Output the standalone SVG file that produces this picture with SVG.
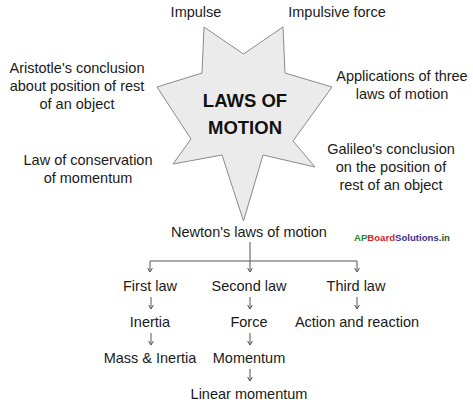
<svg xmlns="http://www.w3.org/2000/svg" width="473" height="407" viewBox="0 0 473 407">
<defs>
<style>
text{font-family:"Liberation Sans",Arial,sans-serif;font-size:14.5px;fill:#1a1a1a;text-anchor:middle}
.title{font-weight:bold;font-size:18.5px;fill:#111}
.con line{stroke:#555;stroke-width:1;fill:none}
.wm{font-weight:bold;font-size:9.6px;text-anchor:start}
</style>
<marker id="ah" viewBox="0 0 5 6" refX="4.5" refY="3" markerWidth="5" markerHeight="6" markerUnits="userSpaceOnUse" orient="auto">
<path d="M0,0.3 L4.5,3 L0,5.7" fill="none" stroke="#555" stroke-width="1"/>
</marker>
</defs>
<rect width="473" height="407" fill="#ffffff"/>

<g id="star">
<polygon points="204,27 243.5,54 283,27 285,73 332,87 293,141 315,167 263,155 243.5,221 222,155 173,164 191,139 157,87 202,73" fill="#ebebeb" stroke="#8a8a8a" stroke-width="1"/>
<text class="title" x="245" y="107">LAWS OF</text>
<text class="title" x="245" y="134">MOTION</text>
</g>

<g id="impulse"><text x="196" y="17">Impulse</text></g>
<g id="impulsive-force"><text x="337" y="17">Impulsive force</text></g>
<g id="aristotle">
<text x="77" y="73">Aristotle's conclusion</text>
<text x="77" y="91">about position of rest</text>
<text x="77" y="109">of an object</text>
</g>
<g id="applications">
<text x="402" y="81">Applications of three</text>
<text x="402" y="99">laws of motion</text>
</g>
<g id="conservation">
<text x="88" y="165">Law of conservation</text>
<text x="88" y="183">of momentum</text>
</g>
<g id="galileo">
<text x="391" y="154">Galileo's conclusion</text>
<text x="391" y="172">on the position of</text>
<text x="391" y="190">rest of an object</text>
</g>

<g id="newton"><text x="249" y="237">Newton's laws of motion</text></g>
<g id="first-law"><text x="150" y="291">First law</text></g>
<g id="second-law"><text x="249" y="291">Second law</text></g>
<g id="third-law"><text x="356" y="291">Third law</text></g>
<g id="inertia"><text x="150" y="327">Inertia</text></g>
<g id="force"><text x="249" y="327">Force</text></g>
<g id="action-reaction"><text x="357" y="327">Action and reaction</text></g>
<g id="mass-inertia"><text x="150" y="363">Mass &amp; Inertia</text></g>
<g id="momentum"><text x="249" y="363">Momentum</text></g>
<g id="linear-momentum"><text x="249" y="399">Linear momentum</text></g>

<g id="watermark">
<text class="wm" x="354" y="241"><tspan style="fill:#1f8a2a">AP</tspan><tspan style="fill:#d0262a">Board</tspan><tspan style="fill:#3a2f86">Solutions</tspan><tspan style="fill:#1f5a3a">.in</tspan></text>
</g>

<g class="con" id="connectors">
<line x1="250" y1="242" x2="250" y2="261"/>
<line x1="150" y1="261" x2="357" y2="261"/>
<line x1="150" y1="261" x2="150" y2="272" marker-end="url(#ah)"/>
<line x1="250" y1="261" x2="250" y2="272" marker-end="url(#ah)"/>
<line x1="357" y1="261" x2="357" y2="272" marker-end="url(#ah)"/>
<line x1="151" y1="297" x2="151" y2="309" marker-end="url(#ah)"/>
<line x1="250" y1="297" x2="250" y2="309" marker-end="url(#ah)"/>
<line x1="357" y1="297" x2="357" y2="309" marker-end="url(#ah)"/>
<line x1="151" y1="333" x2="151" y2="345" marker-end="url(#ah)"/>
<line x1="250" y1="333" x2="250" y2="345" marker-end="url(#ah)"/>
<line x1="250" y1="369" x2="250" y2="381" marker-end="url(#ah)"/>
</g>
</svg>
